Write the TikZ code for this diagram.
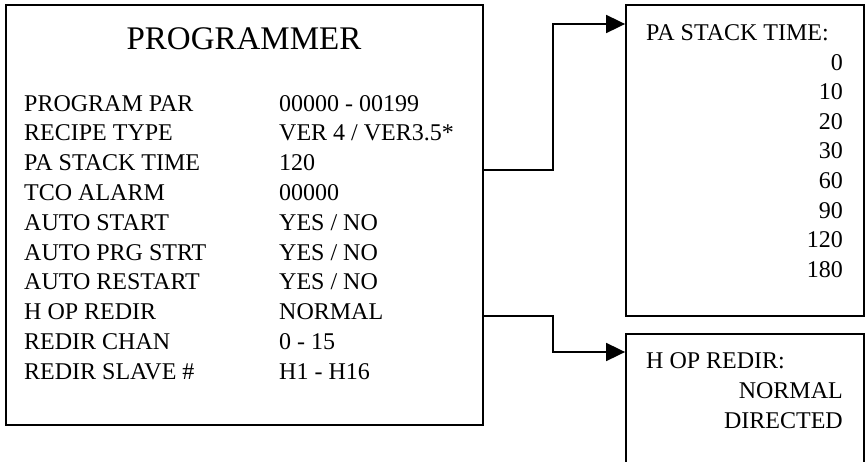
\documentclass[tikz,border=0pt]{standalone}
\usepackage{fontspec}
\setmainfont{Liberation Serif}
\usetikzlibrary{positioning,calc,arrows.meta}
\tikzset{
    menu/.style={
        x=1pt, y=-1pt,
        % Riquadri dei menu
        panel/.style={draw, rectangle, line width=1.8pt, inner sep=0pt},
        % Voci di testo
        entry/.style={inner sep=0pt, font=\fontsize{24}{28}\selectfont},
        heading/.style={inner sep=0pt, font=\fontsize{33}{38}\selectfont},
        % Collegamenti con freccia piena
        link/.style={line width=1.8pt, -{Triangle[length=19pt,width=18pt]}}
    }
}
\begin{document}
\begin{tikzpicture}[menu]
    \useasboundingbox (0,0) rectangle (865,461);
    % riquadro principale
    \node[panel, minimum width=477pt, minimum height=420pt] (prog) at (244.5,215) {};
    \node[heading, anchor=base] (title) at (244,49.5) {PROGRAMMER};
    \node[entry, anchor=base west] (lpar)   at (24,111)   {PROGRAM PAR};
    \node[entry, anchor=base west] (lrec)   at (24,140.8) {RECIPE TYPE};
    \node[entry, anchor=base west] (lstack) at (24,170.6) {PA STACK TIME};
    \node[entry, anchor=base west] (ltco)   at (24,200.4) {TCO ALARM};
    \node[entry, anchor=base west] (lastart) at (24,230.2) {AUTO START};
    \node[entry, anchor=base west] (laprg)  at (24,260)   {AUTO PRG STRT};
    \node[entry, anchor=base west] (larest) at (24,289.8) {AUTO RESTART};
    \node[entry, anchor=base west] (lhop)   at (24,319.6) {H OP REDIR};
    \node[entry, anchor=base west] (lchan)  at (24,349.4) {REDIR CHAN};
    \node[entry, anchor=base west] (lslave) at (24,379.2) {REDIR SLAVE \#};
    \node[entry, anchor=base west] (vpar)   at (279,111)   {00000 - 00199};
    \node[entry, anchor=base west] (vrec)   at (279,140.8) {VER 4 / VER3.5*};
    \node[entry, anchor=base west] (vstack) at (279,170.6) {120};
    \node[entry, anchor=base west] (vtco)   at (279,200.4) {00000};
    \node[entry, anchor=base west] (vastart) at (279,230.2) {YES / NO};
    \node[entry, anchor=base west] (vaprg)  at (279,260)   {YES / NO};
    \node[entry, anchor=base west] (varest) at (279,289.8) {YES / NO};
    \node[entry, anchor=base west] (vhop)   at (279,319.6) {NORMAL};
    \node[entry, anchor=base west] (vchan)  at (279,349.4) {0 - 15};
    \node[entry, anchor=base west] (vslave) at (279,379.2) {H1 - H16};
    % riquadro PA STACK TIME
    \node[panel, minimum width=238pt, minimum height=311pt] (stackbox) at (745,160.5) {};
    \node[entry, anchor=base west] (stackhead) at (646,40.7) {PA STACK TIME:};
    \node[entry, anchor=base east] (t0)   at (843,70)    {0};
    \node[entry, anchor=base east] (t10)  at (843,99.6)  {10};
    \node[entry, anchor=base east] (t20)  at (843,129.2) {20};
    \node[entry, anchor=base east] (t30)  at (843,158.8) {30};
    \node[entry, anchor=base east] (t60)  at (843,188.4) {60};
    \node[entry, anchor=base east] (t90)  at (843,218)   {90};
    \node[entry, anchor=base east] (t120) at (843,247.6) {120};
    \node[entry, anchor=base east] (t180) at (843,277.2) {180};
    % riquadro H OP REDIR
    \node[panel, minimum width=238pt, minimum height=152pt] (hopbox) at (745,410) {};
    \node[entry, anchor=base west] (hophead) at (646,368) {H OP REDIR:};
    \node[entry, anchor=base east] (hnorm) at (843,398) {NORMAL};
    \node[entry, anchor=base east] (hdir)  at (843,428) {DIRECTED};
    % collegamenti
    \coordinate (j1) at (553,170);
    \coordinate (j2) at (553,316);
    \draw[link] (prog.east |- j1) -- (j1) |- (stackbox.west |- 0,24);
    \draw[link] (prog.east |- j2) -- (j2) |- (hopbox.west |- 0,352);
\end{tikzpicture}
\end{document}
